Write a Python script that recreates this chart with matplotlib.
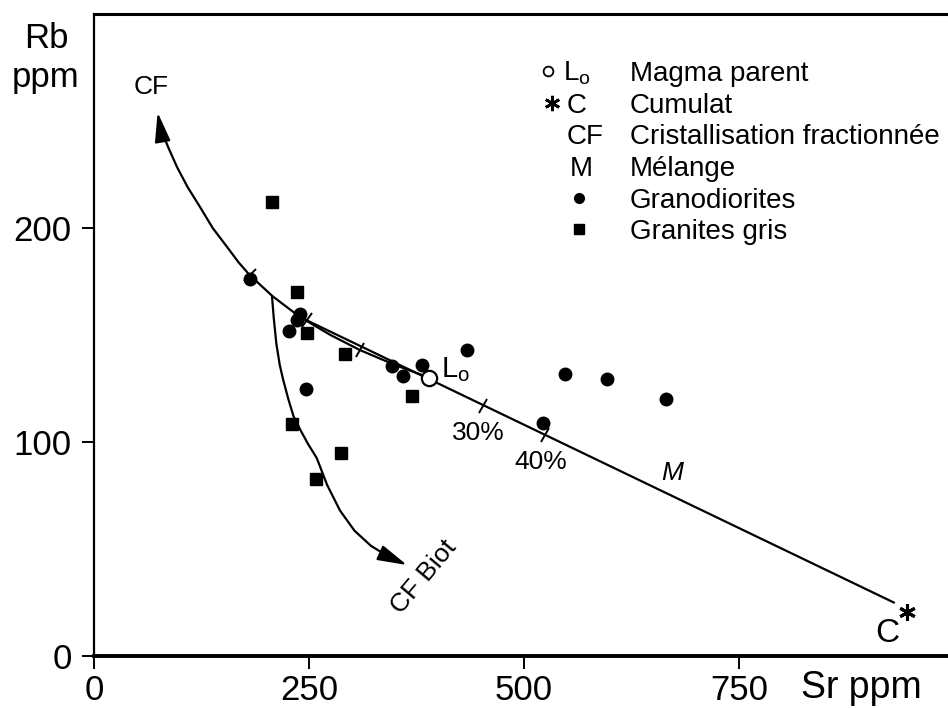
import matplotlib
matplotlib.use('Agg')
import matplotlib.pyplot as plt
from matplotlib.markers import MarkerStyle
from matplotlib.transforms import Affine2D

plt.rcParams['font.family'] = ['Liberation Sans', 'DejaVu Sans']
plt.rcParams['mathtext.fontset'] = 'custom'
plt.rcParams['mathtext.rm'] = 'Liberation Sans'
plt.rcParams['mathtext.it'] = 'Liberation Sans:italic'

# Granodiorites (points)
grano_sr = [181, 227, 236, 239, 246, 346, 359, 381, 434, 522, 548, 596, 665]
grano_rb = [176, 152, 157, 160, 125, 135.5, 131, 136, 143, 109, 132, 129.5, 120]

# Granites gris (carres)
gris_sr = [207, 236, 248, 292, 370, 230, 287, 258]
gris_rb = [212, 170, 151, 141, 121.5, 108.5, 95, 82.5]

# magma parent L0 et cumulat C
lo = (390, 130)
cumulat = (930, 25)

# courbe de cristallisation fractionnee (CF), de la pointe vers L0
cf_sr = [74, 77, 86, 96.5, 109, 123, 138, 155, 168, 181, 208, 239.5, 275, 309, 350, 390]
cf_rb = [254, 247, 238, 228.5, 219, 210, 200, 191, 184, 178, 168, 158.4, 150, 143, 136, 130]

# CF biotite
biot_sr = [207, 209, 212, 216, 220, 226, 232, 240, 249, 259, 271, 286, 303, 322, 342, 364]
biot_rb = [168, 158, 146, 136, 129, 120, 112, 105.6, 99, 92.5, 80, 68, 58.5, 51.5, 46.5, 42.5]

# graduations sur les courbes
cf_ticks_sr = [181, 248, 309]
cf_ticks_rb = [178, 157, 143]
cf_ticks_ang = [-47, -36, -29]
mix_ticks_sr = [452, 524]
mix_ticks_rb = [117, 103.5]
mix_labels = ['30%', '40%']

legend_sym = ['', '', 'CF', 'M', '', '']
legend_txt = ['Magma parent', 'Cumulat', 'Cristallisation fractionnée',
              'Mélange', 'Granodiorites', 'Granites gris']

fig = plt.figure(figsize=(9.48, 7.08), dpi=100)
ax = fig.add_axes([94 / 948, 52 / 708, 854 / 948, 642 / 708])
ax.set_xlim(0, 993)
ax.set_ylim(0, 300)

ax.spines['right'].set_visible(False)
ax.spines['top'].set_linewidth(2.2)
ax.spines['bottom'].set_linewidth(2.8)
ax.spines['left'].set_linewidth(1.6)
ax.set_xticks([0, 250, 500, 750])
ax.set_yticks([0, 100, 200])
ax.tick_params(direction='out', length=9, width=1.4, labelsize=25, top=False, right=False)
ax.tick_params(axis='x', pad=4)
ax.tick_params(axis='y', pad=7)

lw = 1.6
arrow = dict(arrowstyle='-|>,head_length=0.75,head_width=0.2', lw=lw,
             color='k', mutation_scale=24, shrinkA=0, shrinkB=0)
# CF
ax.plot(cf_sr[1:], cf_rb[1:], color='k', lw=lw, solid_joinstyle='round')
ax.annotate('', xy=(cf_sr[0], cf_rb[0]), xytext=(cf_sr[1], cf_rb[1]), arrowprops=arrow)
# melange
ax.plot([cf_sr[11], cumulat[0]], [cf_rb[11], cumulat[1]], color='k', lw=lw)
# CF biot
ax.plot(biot_sr[:-1], biot_rb[:-1], color='k', lw=lw, solid_joinstyle='round')
ax.annotate('', xy=(biot_sr[-1], biot_rb[-1]), xytext=(biot_sr[-2], biot_rb[-2]), arrowprops=arrow)

for x, y, a in zip(cf_ticks_sr, cf_ticks_rb, cf_ticks_ang):
    m = MarkerStyle('|', transform=Affine2D().rotate_deg(a))
    ax.plot(x, y, marker=m, color='k', ms=12, mew=1.4)
for x, y in zip(mix_ticks_sr, mix_ticks_rb):
    m = MarkerStyle('|', transform=Affine2D().rotate_deg(-26))
    ax.plot(x, y, marker=m, color='k', ms=12, mew=1.4)

ax.plot(grano_sr, grano_rb, 'o', color='k', ms=9, ls='none')
ax.plot(gris_sr, gris_rb, 's', color='k', ms=8.5, ls='none')
ax.plot(*lo, 'o', mfc='white', mec='k', mew=1.6, ms=11)

fs = 20
ax.text(404, 130.5, r'L$_\mathrm{o}$', fontsize=21, va='baseline')
ax.annotate('C', cumulat, xytext=(-5, -22), textcoords='offset points',
            fontsize=24, ha='center', va='center')
ax.plot(cumulat[0], cumulat[1], marker=(6, 2, 0), color='k', ms=12, mew=2.2,
        transform=ax.transData + Affine2D().translate(13, -9))
ax.text(67, 266, 'CF', fontsize=19, ha='center', va='center')
ax.text(447, 104, mix_labels[0], fontsize=19, ha='center', va='center')
ax.text(519, 90.5, mix_labels[1], fontsize=19, ha='center', va='center')
ax.text(672, 85.5, 'M', fontsize=19, style='italic', ha='center', va='center')
ax.text(383, 37, 'CF Biot', fontsize=19, rotation=50, ha='center', va='center')

# legende
y0 = 268.7
dy = 14.8
for i, (s, t) in enumerate(zip(legend_sym, legend_txt)):
    y = y0 - i * dy
    ax.text(623, y, t, fontsize=fs, va='baseline', clip_on=False)
    if s:
        ax.text(550 + 3 * (s == 'M'), y, s, fontsize=fs, va='baseline')
ax.plot(528, y0 + 4.7, 'o', mfc='white', mec='k', mew=1.3, ms=7)
ax.text(545, y0, r'L$_\mathrm{o}$', fontsize=fs, va='baseline')
ax.plot(533, y0 - dy + 4.7, marker=(6, 2, 0), color='k', ms=11, mew=2)
ax.text(550, y0 - dy, 'C', fontsize=fs, va='baseline')
ax.plot(564, y0 - 4 * dy + 4.7, 'o', color='k', ms=7)
ax.plot(564, y0 - 5 * dy + 4.7, 's', color='k', ms=6.5)

fig.text(46 / 948, 1 - 38 / 708, 'Rb', fontsize=25, ha='center', va='center')
fig.text(46 / 948, 1 - 78 / 708, 'ppm', fontsize=25, ha='center', va='center')
fig.text(861 / 948, 1 - 688 / 708, 'Sr ppm', fontsize=27, ha='center', va='center')

fig.savefig('out.png', dpi=100)
